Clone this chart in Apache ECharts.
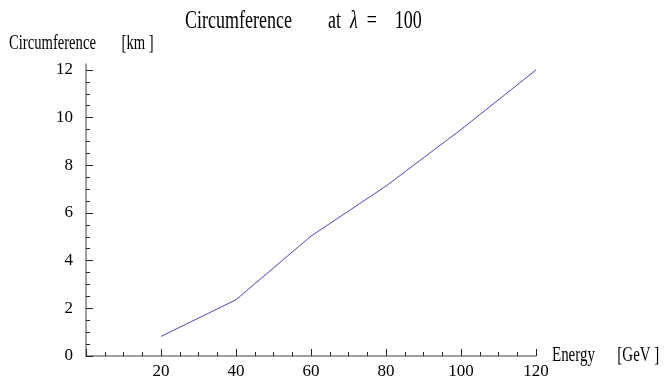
<!DOCTYPE html>
<html>
<head>
<meta charset="utf-8">
<script src="https://cdn.jsdelivr.net/npm/echarts@6/dist/echarts.min.js"></script>
<style>html,body{margin:0;padding:0;background:#fff}#c{width:667px;height:380px}</style>
</head>
<body>
<div id="c"></div>
<script>
const energy = [20, 40, 60, 80, 100, 120];
const circumference = [0.82, 2.36, 5.03, 7.13, 9.5, 12.0];
const yMajorTicks = [0, 2, 4, 6, 8, 10, 12];
const yMinorTicks = [0.5, 1, 1.5, 2.5, 3, 3.5, 4.5, 5, 5.5, 6.5, 7, 7.5, 8.5, 9, 9.5, 10.5, 11, 11.5];
const titleMain = 'Circumference';
const titleParam = 'λ';
const titleValue = '100';
const yName = 'Circumference       [km ]';
const xName = 'Energy      [GeV ]';

const FONT = 'Liberation Serif';
const chart = echarts.init(document.getElementById('c'), null, {renderer: 'canvas'});
chart.setOption({
  animation: false,
  backgroundColor: '#fff',
  graphic: [
    {
      type: 'text', x: 185, y: 21, scaleX: 0.72,
      style: {
        text: '{n|' + titleMain + '        at  }{i|' + titleParam + '}{n|  =    ' + titleValue + '}',
        verticalAlign: 'middle', align: 'left',
        rich: {
          n: {fontFamily: FONT, fontSize: 25, fill: '#000'},
          i: {fontFamily: FONT, fontSize: 25, fontStyle: 'italic', fill: '#000'}
        }
      }
    },
    {
      type: 'text', x: 9, y: 43, scaleX: 0.665,
      style: {text: yName, fontFamily: FONT, fontSize: 22, fill: '#000', verticalAlign: 'middle', align: 'left'}
    },
    {
      type: 'text', x: 552, y: 355, scaleX: 0.68,
      style: {text: xName, fontFamily: FONT, fontSize: 22, fill: '#000', verticalAlign: 'middle', align: 'left'}
    }
  ],
  grid: {left: 86, right: 131, top: 64, bottom: 23, containLabel: false},
  xAxis: {
    type: 'value', min: 0, max: 120, interval: 20,
    axisLine: {show: true, onZero: false, lineStyle: {color: '#808080', width: 1.5}},
    axisTick: {show: true, inside: true, length: 7, lineStyle: {color: '#222', width: 1}},
    minorTick: {show: true, splitNumber: 4, length: 4, lineStyle: {color: '#222', width: 1}},
    splitLine: {show: false}, minorSplitLine: {show: false},
    axisLabel: {
      fontFamily: FONT, fontSize: 17, color: '#000', margin: 7,
      formatter: v => (v === 0 ? '' : String(v))
    }
  },
  yAxis: [{
    type: 'value', min: 0, max: 12.25, interval: 2,
    axisLine: {show: true, onZero: false, lineStyle: {color: '#808080', width: 1.5}},
    axisTick: {show: true, inside: true, length: 7, customValues: yMajorTicks, lineStyle: {color: '#222', width: 1}},
    splitLine: {show: false},
    axisLabel: {fontFamily: FONT, fontSize: 17, color: '#000', margin: 13, customValues: yMajorTicks}
  }, {
    type: 'value', min: 0, max: 12.25, position: 'left',
    axisLine: {show: false},
    axisTick: {show: true, inside: true, length: 4, customValues: yMinorTicks, lineStyle: {color: '#222', width: 1}},
    splitLine: {show: false},
    axisLabel: {show: false}
  }],
  series: [{
    type: 'line',
    data: energy.map((e, i) => [e, circumference[i]]),
    showSymbol: false, symbol: 'none',
    lineStyle: {color: '#4a4ab4', width: 1},
    yAxisIndex: 0
  }]
});
</script>
</body>
</html>
